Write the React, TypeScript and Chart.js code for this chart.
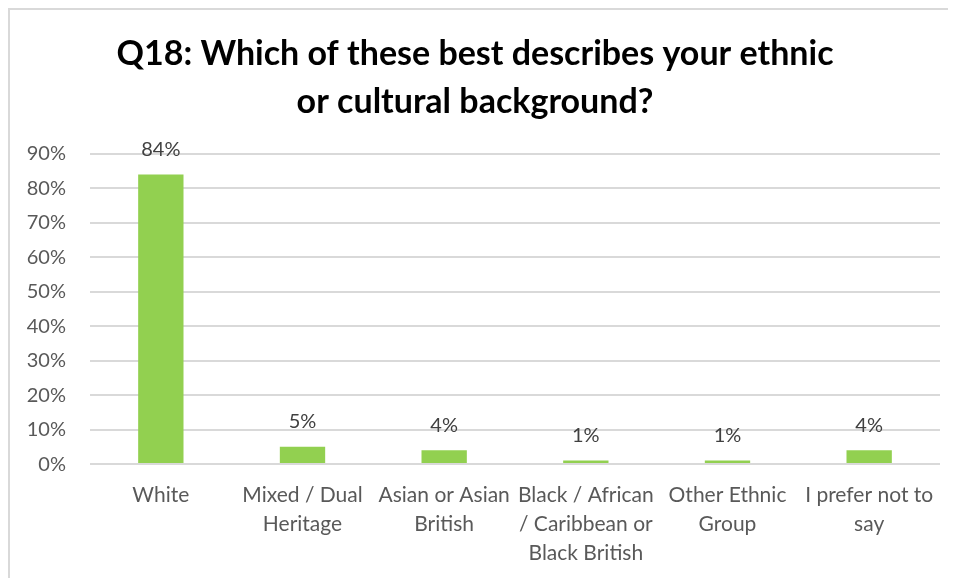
import React, { useEffect, useRef } from "react";
import { Chart, registerables } from "chart.js";

Chart.register(...registerables);

const titleLines = ["Q18: Which of these best describes your ethnic", "or cultural background?"];
const categories: string[][] = [
  ["White"],
  ["Mixed / Dual", "Heritage"],
  ["Asian or Asian", "British"],
  ["Black / African", "/ Caribbean or", "Black British"],
  ["Other Ethnic", "Group"],
  ["I prefer not to", "say"],
];
const values = [84, 5, 4, 1, 1, 4];
const yTicks = [0, 10, 20, 30, 40, 50, 60, 70, 80, 90];

const FONT = "Lato, 'Open Sans', sans-serif";
const GRAY = "#595959";

const dataLabels = {
  id: "dataLabels",
  afterDatasetsDraw(chart: any) {
    const ctx = chart.ctx;
    const meta = chart.getDatasetMeta(0);
    ctx.save();
    ctx.font = `20px ${FONT}`;
    ctx.fillStyle = "#404040";
    ctx.textAlign = "center";
    ctx.textBaseline = "bottom";
    meta.data.forEach((bar: any, i: number) => {
      ctx.fillText(values[i] + "%", bar.x, bar.y - 15);
    });
    ctx.restore();
  },
};

export default function App() {
  const ref = useRef<HTMLCanvasElement>(null);
  useEffect(() => {
    const prevOverflow = document.body.style.overflow;
    document.body.style.overflow = "hidden";
    const chart = new Chart(ref.current!, {
      type: "bar",
      data: {
        labels: categories,
        datasets: [
          {
            data: values,
            backgroundColor: "#92D050",
            barPercentage: 0.32,
            categoryPercentage: 1,
          },
        ],
      },
      options: {
        animation: false,
        responsive: true,
        maintainAspectRatio: false,
        layout: { padding: { left: 0, right: 17, top: 0, bottom: 0 } },
        plugins: {
          legend: { display: false },
          tooltip: { enabled: false },
          title: {
            display: true,
            text: titleLines,
            color: "#000000",
            font: { family: FONT, size: 34, weight: "bold", lineHeight: 1.41 },
            padding: { top: 20, bottom: 28 },
          },
        },
        scales: {
          x: {
            grid: { display: false, drawTicks: false },
            border: { display: false },
            ticks: {
              color: GRAY,
              font: { family: FONT, size: 21, lineHeight: 1.38 },
              padding: 17,
              maxRotation: 0,
              autoSkip: false,
            },
          },
          y: {
            min: 0,
            max: 90,
            afterFit: (scale: any) => {
              scale.width = 80;
            },
            afterBuildTicks: (scale: any) => {
              scale.ticks = yTicks.map((v) => ({ value: v }));
            },
            grid: { color: "#d9d9d9", lineWidth: 2, drawTicks: false },
            border: { display: false },
            ticks: {
              color: GRAY,
              font: { family: FONT, size: 20 },
              padding: 24,
              callback: (v: any) => v + "%",
            },
          },
        },
      },
      plugins: [dataLabels],
    });
    return () => {
      chart.destroy();
      document.body.style.overflow = prevOverflow;
    };
  }, []);
  return (
    <div
      style={{
        width: 947,
        height: 575,
        borderTop: "2px solid #d9d9d9",
        borderLeft: "2px solid #d9d9d9",
        position: "relative",
        background: "#fff",
      }}
    >
      <canvas ref={ref} />
    </div>
  );
}
